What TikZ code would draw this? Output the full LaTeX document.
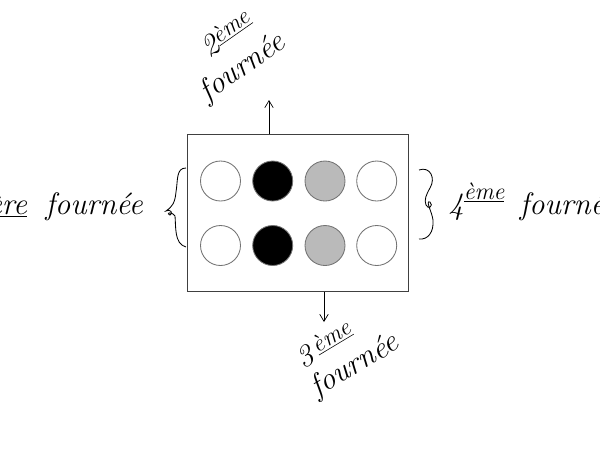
\documentclass[tikz,border=0pt]{standalone}
\usetikzlibrary{arrows.meta}
\begin{document}
\begin{tikzpicture}[x=0.025cm,y=-0.025cm,
  hand/.style={font=\fontsize{22}{26}\selectfont\itshape, inner sep=0pt},
  sup/.style={font=\fontsize{15}{18}\selectfont\itshape, inner sep=0pt},
  pot/.style={circle, draw=black!55, line width=0.6pt, minimum size=40*0.025cm, inner sep=0pt},
  arr/.style={-{Straight Barb[length=5pt,width=6pt]}, line width=0.5pt},
  brace/.style={line width=0.6pt}]
\useasboundingbox (0,0) rectangle (600,450);
\begin{scope}
\clip (0,0) rectangle (600,450);
% tray
\node[draw=black!75, line width=0.7pt, minimum width=221*0.025cm, minimum height=157*0.025cm, inner sep=0pt] (tray) at (297.5,213) {};
% pots
\node[pot, fill=white] (a1) at (220.5,181) {};
\node[pot, fill=black] (b1) at (272.7,181) {};
\node[pot, fill=black!27] (c1) at (325,181) {};
\node[pot, fill=white] (d1) at (376.7,181) {};
\node[pot, fill=white] (a2) at (220.5,245.5) {};
\node[pot, fill=black] (b2) at (272.7,245.5) {};
\node[pot, fill=black!27] (c2) at (325,245.5) {};
\node[pot, fill=white] (d2) at (376.7,245.5) {};
% arrows
\coordinate (up) at (269,100);
\coordinate (down) at (324,322);
\draw[arr] (tray.north -| up) -- (up);
\draw[arr] (tray.south -| down) -- (down);
% labels
\node[hand, rotate=35] (t2a) at (226,33) {2\raisebox{0.5ex}{\fontsize{17}{20}\selectfont\underline{ème}}};
\node[hand, rotate=35] (t2b) at (243,68) {fournée};
\node[hand, rotate=31] (t3a) at (324,344) {3\,\raisebox{0.5ex}{\fontsize{17}{20}\selectfont\underline{ème}}};
\node[hand, rotate=31] (t3b) at (355,366) {fournée};
\node[hand, anchor=base east] (t1) at (143,214) {1\underline{ère}\hspace{0.6em}fournée};
\node[hand, anchor=base west] (t4) at (448,214) {4\raisebox{1.1ex}{\fontsize{17}{20}\selectfont\underline{ème}}\hspace{0.5em}fournée};
% braces
\draw[brace] (186,168) .. controls (176,168) and (178,180) .. (176,192)
  .. controls (175,203) and (172,207) .. (166,211)
  .. controls (170,208) and (174,214) .. (170,215)
  .. controls (166,214) and (170,210) .. (175,216)
  .. controls (176,226) and (174,244) .. (186,247);
\draw[brace] (419,170) .. controls (430,166) and (436,178) .. (430,188)
  .. controls (426,195) and (424,200) .. (426,205)
  .. controls (428,210) and (434,206) .. (430,202)
  .. controls (425,200) and (432,212) .. (433,220)
  .. controls (434,232) and (428,240) .. (419,239);
\end{scope}
\end{tikzpicture}
\end{document}
